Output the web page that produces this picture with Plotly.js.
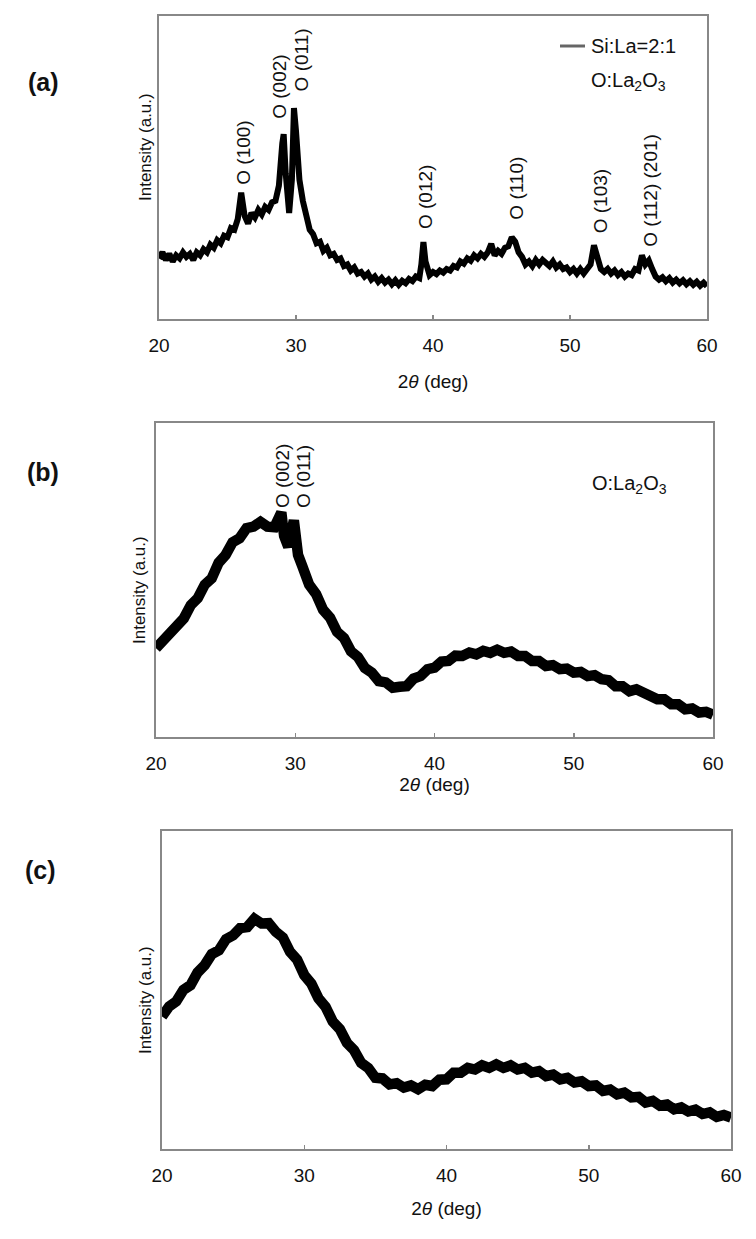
<!DOCTYPE html>
<html>
<head>
<meta charset="utf-8">
<script src="https://cdn.plot.ly/plotly-3.0.1.min.js"></script>
<style>
  html, body { margin: 0; padding: 0; background: #fff; }
  #chart { width: 756px; height: 1239px; }
</style>
</head>
<body>
<div id="chart"></div>
<script>
// XRD patterns, intensity in arbitrary units (0-100 of the frame height)

// (a) Si:La = 2:1
const thetaA = [
    20, 20.25, 20.5, 20.75, 21, 21.25, 21.5, 21.75, 22, 22.25, 22.5, 22.75, 23, 23.25, 23.5, 23.75,
    24, 24.25, 24.5, 24.75, 25, 25.25, 25.5, 25.75, 26, 26.25, 26.5, 26.75, 27, 27.25, 27.5, 27.75,
    28, 28.25, 28.5, 28.75, 29, 29.1, 29.25, 29.5, 29.7, 29.85, 30, 30.25, 30.5, 30.75,
    31, 31.25, 31.5, 31.75, 32, 32.25, 32.5, 32.75, 33, 33.25, 33.5, 33.75, 34, 34.25, 34.5, 34.75,
    35, 35.25, 35.5, 35.75, 36, 36.25, 36.5, 36.75, 37, 37.25, 37.5, 37.75, 38, 38.25, 38.5, 38.75,
    39, 39.15, 39.3, 39.45, 39.6, 39.75,
    40, 40.25, 40.5, 40.75, 41, 41.25, 41.5, 41.75, 42, 42.25, 42.5, 42.75, 43, 43.25, 43.5, 43.75,
    44, 44.25, 44.5, 44.75, 45, 45.25, 45.5, 45.75, 46, 46.25, 46.5, 46.75, 47, 47.25, 47.5, 47.75,
    48, 48.25, 48.5, 48.75, 49, 49.25, 49.5, 49.75, 50, 50.25, 50.5, 50.75, 51, 51.25, 51.5, 51.75,
    52, 52.25, 52.5, 52.75, 53, 53.25, 53.5, 53.75, 54, 54.25, 54.5, 54.75, 55, 55.25, 55.5, 55.75,
    56, 56.25, 56.5, 56.75, 57, 57.25, 57.5, 57.75, 58, 58.25, 58.5, 58.75, 59, 59.25, 59.5, 59.75, 60];
const intensityA = [
    20, 22, 19.5, 21.5, 19, 21, 20, 22, 20.5, 21.5, 19.5, 22, 21, 23, 22, 24.5,
    23.5, 26, 25, 27.5, 27, 30, 29.5, 33, 41.7, 34, 31.5, 35, 33.5, 36, 34.5, 37,
    36, 38.5, 39, 44, 58, 61, 48, 35, 46, 69.6, 62, 46, 39, 34,
    29.5, 28, 25, 25.5, 22.5, 23.5, 21, 21.5, 19.5, 20, 17.5, 18, 16, 17, 15, 15.5,
    14, 15, 13, 14, 12.3, 13.5, 12, 13, 11.5, 12.8, 11.3, 12.6, 11.8, 13.2, 12.5, 14,
    13.5, 18, 25.4, 19, 15.5, 14.5,
    15.5, 14.8, 16, 15.3, 16.5, 16, 17.5, 17, 19, 18.3, 20, 19.2, 21, 20, 21.5, 20.5,
    22, 24.8, 21, 22.5, 21.5, 23.5, 24, 27, 25.5, 22, 20.5, 18, 19, 17.5, 19.5, 18,
    19.5, 18.5, 17.5, 19, 17, 18, 16.5, 17, 15.5, 16.5, 15, 16.5, 15, 16.5, 18, 24.3,
    20, 16.5, 15.5, 16.5, 15, 16, 14.5, 15.5, 14, 15, 14.5, 16.5, 16, 21, 18, 19.3,
    16.5, 14, 13, 13.8, 12.5, 13.5, 12, 13, 11.8, 12.8, 11.5, 12.5, 11.3, 12.3, 11, 12, 10.8];

// (b)
const thetaB = [20, 20.5, 21, 21.5, 22, 22.5, 23, 23.5, 24, 24.5, 25, 25.5, 26, 26.5, 27, 27.5,
    28, 28.5, 29.0, 29.2, 29.5, 29.9, 30.2, 30.5, 31, 31.5, 32, 32.5, 33, 33.5, 34, 34.5, 35, 35.5,
    36, 36.5, 37, 37.5, 38, 38.5, 39, 39.5, 40, 40.5, 41, 41.5, 42, 42.5, 43, 43.5, 44, 44.5, 45,
    45.5, 46, 46.5, 47, 47.5, 48, 48.5, 49, 49.5, 50, 50.5, 51, 51.5, 52, 52.5, 53, 53.5, 54, 54.5,
    55, 55.5, 56, 56.5, 57, 57.5, 58, 58.5, 59, 59.5, 60];
const intensityB = [28.3, 31, 32.5, 36, 37.8, 42, 44.2, 48.5, 50.5, 55.5, 58, 62, 63.3, 66.5, 67, 68.5,
    67, 66.8, 71.5, 64, 60.6, 69, 58, 54.5, 48.5, 45.5, 40.5, 38, 33.5, 31.5, 27.3, 25.5, 22, 20.5,
    17.8, 17.4, 15.7, 16, 16.2, 18.6, 19.4, 21.6, 22.1, 24, 24.2, 25.9, 25.8, 26.9, 26.3, 27.4, 26.8, 27.8, 26.8,
    27.2, 25.8, 25.8, 24.2, 24.2, 22.6, 22.9, 21.6, 21.8, 20.5, 20.7, 19.4, 19.7, 18.4, 18.1, 16.2, 16.2, 14.6, 15.2,
    14.1, 13.9, 12, 12, 10.4, 10.4, 8.8, 9.1, 7.8, 8, 7.1];

// (c)
const thetaC = [20, 20.5, 21, 21.5, 22, 22.5, 23, 23.5, 24, 24.5, 25, 25.5, 26, 26.5, 27, 27.5,
    28, 28.5, 29, 29.5, 30, 30.5, 31, 31.5, 32, 32.5, 33, 33.5, 34, 34.5, 35, 35.5, 36, 36.5, 37,
    37.5, 38, 38.5, 39, 39.5, 40, 40.5, 41, 41.5, 42, 42.5, 43, 43.5, 44, 44.5, 45, 45.5, 46, 46.5,
    47, 47.5, 48, 48.5, 49, 49.5, 50, 50.5, 51, 51.5, 52, 52.5, 53, 53.5, 54, 54.5, 55, 55.5, 56,
    56.5, 57, 57.5, 58, 58.5, 59, 59.5, 60];
const intensityC = [41.7, 44.8, 46.4, 50, 51.5, 55.5, 57.8, 61.3, 62.5, 66, 67.2, 69.5, 69.8, 72.4, 70.9, 71,
    68.3, 66.5, 62, 59.5, 54.7, 52, 47.4, 44.7, 40.1, 37.7, 33.4, 31.1, 27.1, 25.5, 22.4, 22.2, 20.3, 20.7, 19.3,
    20, 18.8, 20.2, 19.8, 21.8, 21.9, 24, 24, 25.5, 25, 26.3, 25.5, 26.6, 25.5, 26.3, 25, 25.5, 24, 24.5,
    22.9, 23.4, 21.9, 22.4, 20.9, 21.3, 19.8, 20, 18.3, 18.7, 17.2, 17.7, 16.2, 16.4, 14.6, 15.1, 13.6, 14, 12.5,
    13.1, 11.8, 12.4, 11, 11.5, 10.1, 10.7, 9.9];

const xTicks = [20, 30, 40, 50, 60];
const xTitle = '2<i>θ</i> (deg)';
const yTitle = 'Intensity (a.u.)';

// peak labels (hkl of La2O3)
const peaksA = ['O (100)', 'O (002)', 'O (011)', 'O (012)', 'O (110)', 'O (103)', 'O (112) (201)'];
const peaksAx = [26.16, 28.8, 30.4, 39.5, 46.1, 52.2, 55.9];
const peaksAy = [55, 76.5, 85.5, 40.3, 43.2, 38.9, 42.6];
const peaksB = ['O (002)', 'O (011)'];
const peaksBx = [29.1, 30.6];
const peaksBy = [83, 83];

const FONT = 'Liberation Sans, Arial, sans-serif';

function lineTrace(x, y, axis, width) {
    return {
        x: x, y: y,
        xaxis: 'x' + axis, yaxis: 'y' + axis,
        type: 'scatter', mode: 'lines',
        line: { color: '#000', width: width },
        hoverinfo: 'skip'
    };
}

function xAxis(domain, anchor, standoff) {
    return {
        domain: domain, anchor: anchor, range: [20, 60],
        tickvals: xTicks, ticks: 'inside', ticklen: 4, tickwidth: 1.5, tickcolor: '#888',
        showline: true, linecolor: '#888', linewidth: 2, mirror: true,
        showgrid: false, zeroline: false,
        ticklabelstandoff: 8,
        tickfont: { family: FONT, size: 19, color: '#111' },
        title: { text: xTitle, standoff: standoff, font: { family: FONT, size: 19, color: '#111' } }
    };
}

function yAxis(domain, anchor) {
    return {
        domain: domain, anchor: anchor, range: [0, 100],
        showticklabels: false, ticks: '',
        showline: true, linecolor: '#888', linewidth: 2, mirror: true,
        showgrid: false, zeroline: false
    };
}

const traces = [
    lineTrace(thetaA, intensityA, '', 6),
    lineTrace(thetaB, intensityB, '2', 10.5),
    lineTrace(thetaC, intensityC, '3', 10.5)
];

const annotations = [];
function paperText(text, x, y, size, opts) {
    annotations.push(Object.assign({
        text: text, xref: 'paper', yref: 'paper',
        x: x / 756, y: 1 - y / 1239, xanchor: 'center', yanchor: 'middle',
        showarrow: false,
        font: { family: FONT, size: size, color: '#111' }
    }, opts || {}));
}

// panel letters
const bold = { family: FONT, size: 25, color: '#111', weight: 'bold' };
paperText('(a)', 43, 82, 25, { font: bold });
paperText('(b)', 43, 472, 25, { font: bold });
paperText('(c)', 40, 870, 25, { font: bold });

// y titles sit a little off the frame centre, so they are placed by hand
paperText(yTitle, 145, 147, 17, { textangle: -90 });
paperText(yTitle, 139, 590, 17, { textangle: -90 });
paperText(yTitle, 145, 1000, 17, { textangle: -90 });

// legend text
paperText('Si:La=2:1', 589, 46, 20, { xanchor: 'left' });
paperText('O:La<sub>2</sub>O<sub>3</sub>', 589, 81, 20, { xanchor: 'left' });
paperText('O:La<sub>2</sub>O<sub>3</sub>', 590, 484, 20, { xanchor: 'left' });

peaksA.forEach((t, i) => annotations.push({
    text: t, x: peaksAx[i], y: peaksAy[i], xref: 'x', yref: 'y',
    xanchor: 'center', yanchor: 'middle', textangle: -90, showarrow: false,
    font: { family: FONT, size: 19, color: '#111' }
}));
peaksB.forEach((t, i) => annotations.push({
    text: t, x: peaksBx[i], y: peaksBy[i], xref: 'x2', yref: 'y2',
    xanchor: 'center', yanchor: 'middle', textangle: -90, showarrow: false,
    font: { family: FONT, size: 19, color: '#111' }
}));

const layout = {
    width: 756, height: 1239,
    margin: { l: 0, r: 0, t: 0, b: 0 },
    paper_bgcolor: '#fff', plot_bgcolor: '#fff',
    showlegend: false,
    xaxis: xAxis([159 / 756, 707 / 756], 'y', 20),
    yaxis: yAxis([1 - 319 / 1239, 1 - 16 / 1239], 'x'),
    xaxis2: xAxis([156 / 756, 713 / 756], 'y2', 5),
    yaxis2: yAxis([1 - 737 / 1239, 1 - 423 / 1239], 'x2'),
    xaxis3: xAxis([162 / 756, 731 / 756], 'y3', 17),
    yaxis3: yAxis([1 - 1149 / 1239, 1 - 831 / 1239], 'x3'),
    annotations: annotations,
    shapes: [{
        // legend sample line
        type: 'line', xref: 'paper', yref: 'paper',
        x0: 560 / 756, x1: 585 / 756, y0: 1 - 46 / 1239, y1: 1 - 46 / 1239,
        line: { color: '#666', width: 3 }
    }]
};

Plotly.newPlot('chart', traces, layout, { displayModeBar: false, staticPlot: true });
</script>
</body>
</html>
